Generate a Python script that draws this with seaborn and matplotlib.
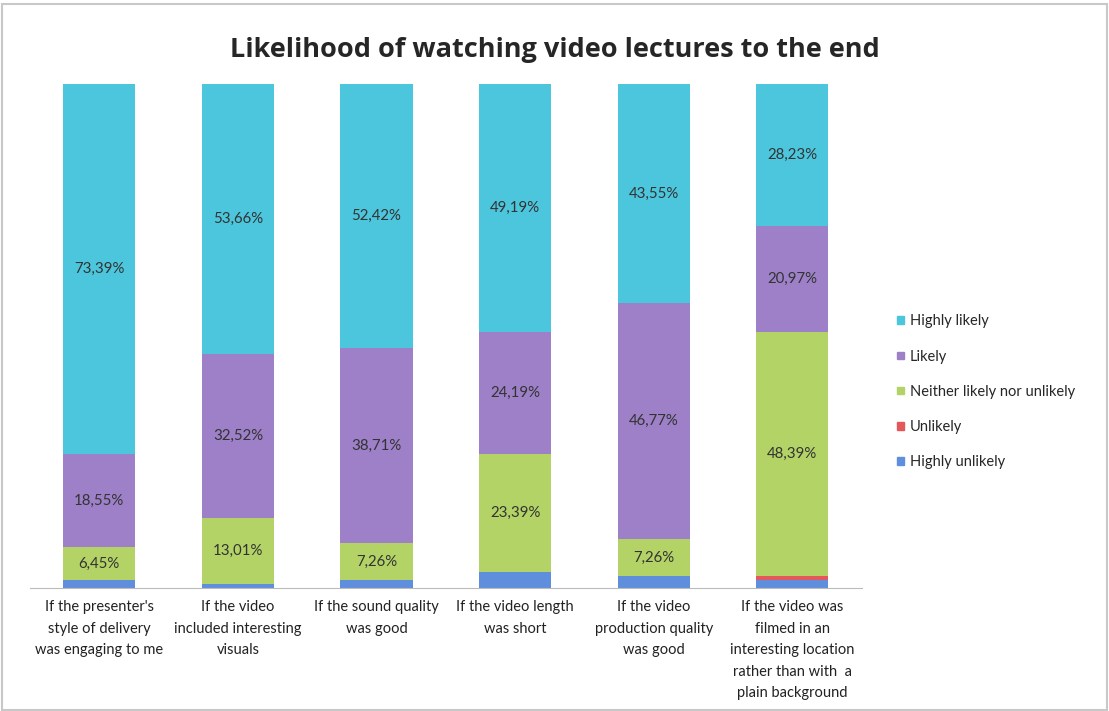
import matplotlib.pyplot as plt
import matplotlib.patches as mpatches
import numpy as np
import pandas as pd
import seaborn as sns

# data (percent of respondents)
categories = [
    "If the presenter's\nstyle of delivery\nwas engaging to me",
    "If the video\nincluded interesting\nvisuals",
    "If the sound quality\nwas good",
    "If the video length\nwas short",
    "If the video\nproduction quality\nwas good",
    "If the video was\nfilmed in an\ninteresting location\nrather than with  a\nplain background",
]
highly_unlikely = [1.61, 0.81, 1.61, 3.23, 2.42, 1.61]
unlikely = [0.0, 0.0, 0.0, 0.0, 0.0, 0.81]
neither = [6.45, 13.01, 7.26, 23.39, 7.26, 48.39]
likely = [18.55, 32.52, 38.71, 24.19, 46.77, 20.97]
highly_likely = [73.39, 53.66, 52.42, 49.19, 43.55, 28.23]

levels = ["Highly unlikely", "Unlikely", "Neither likely nor unlikely", "Likely", "Highly likely"]
series = [highly_unlikely, unlikely, neither, likely, highly_likely]
colors = ["#5f8fdc", "#e4585c", "#b3d366", "#9d80c7", "#4cc6dc"]
labelled = {"Neither likely nor unlikely", "Likely", "Highly likely"}

sns.set_style("white")
plt.rcParams["font.family"] = ["Lato", "DejaVu Sans"]

fig = plt.figure(figsize=(11.09, 7.11), dpi=100)
ax = fig.add_axes([0.027, 0.173, 0.75, 0.709])

df = pd.DataFrame({"category": categories})
bottom = np.zeros(len(categories))
for level, vals, col in zip(levels, series, colors):
    df[level] = vals
    sns.barplot(data=df, x="category", y=level, bottom=bottom, color=col,
                width=0.52, saturation=1, ax=ax, linewidth=0)
    if level in labelled:
        for i, v in enumerate(vals):
            ax.text(i, bottom[i] + v / 2, f"{v:.2f}%".replace(".", ","),
                    ha="center", va="center", fontsize=10.8, color="#333333")
    bottom = bottom + np.array(vals)

ax.set_ylim(0, 100)
ax.set_xlim(-0.5, len(categories) - 0.5)
ax.set_yticks([])
ax.set_xlabel("")
ax.set_ylabel("")
ax.tick_params(axis="x", length=0, labelsize=10.5, pad=9, labelcolor="#222222")
for lbl in ax.get_xticklabels():
    lbl.set_linespacing(1.68)
for side in ["top", "right", "left"]:
    ax.spines[side].set_visible(False)
ax.spines["bottom"].set_color("#bbbbbb")

fig.suptitle("Likelihood of watching video lectures to the end",
             fontsize=19.5, fontweight="bold", x=0.5, y=0.948, family=["Open Sans", "DejaVu Sans"])

handles = [mpatches.Patch(color=c, label=l) for l, c in zip(levels, colors)][::-1]
fig.legend(handles=handles, loc="center left", bbox_to_anchor=(0.797, 0.449),
           frameon=False, fontsize=10.5, handlelength=0.45, handleheight=0.45,
           handletextpad=0.45, labelspacing=1.45)

fig.patches.append(mpatches.Rectangle((0.002, 0.002), 0.996, 0.993, transform=fig.transFigure,
                                      fill=False, edgecolor="#c8c8c8", linewidth=1.5))

fig.savefig("out.png", dpi=100)
